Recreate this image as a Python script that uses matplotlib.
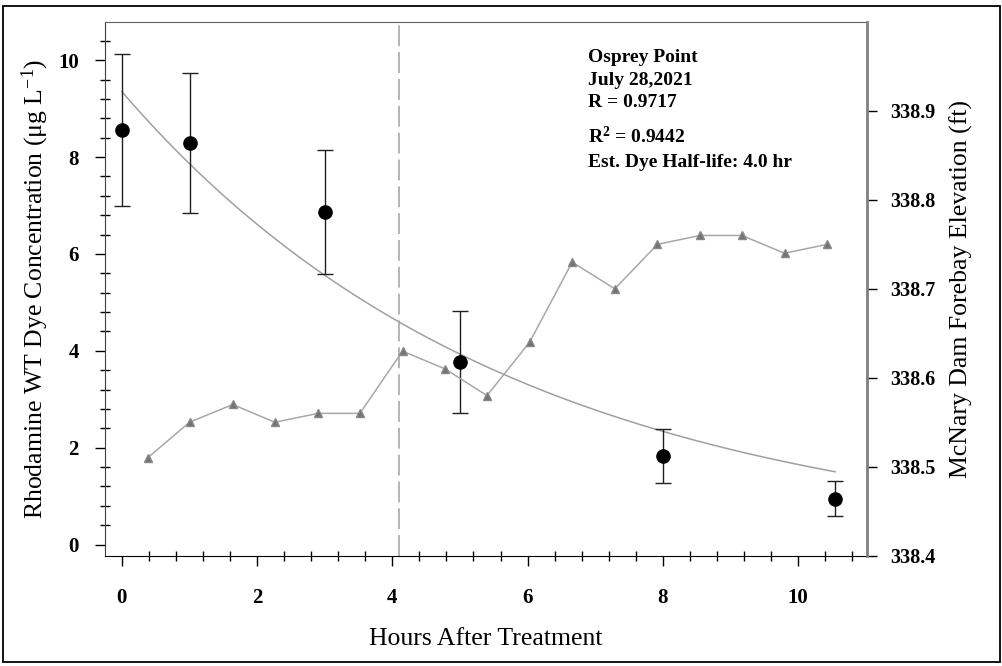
import numpy as np
import matplotlib
matplotlib.use('Agg')
import matplotlib.pyplot as plt
from matplotlib.patches import Rectangle
from matplotlib.ticker import MultipleLocator

plt.rcParams['font.family'] = ['Liberation Serif', 'DejaVu Serif']
plt.rcParams['mathtext.fontset'] = 'custom'
plt.rcParams['mathtext.rm'] = 'Liberation Serif'
plt.rcParams['mathtext.it'] = 'Liberation Serif:italic'
plt.rcParams['mathtext.bf'] = 'Liberation Serif:bold'

# dye samples (mean +/- sd)
dye_hours = [0, 1, 3, 5, 8, 10.55]
dye_conc = [8.56, 8.29, 6.87, 3.77, 1.83, 0.95]
dye_sd = [1.57, 1.44, 1.28, 1.05, 0.55, 0.365]

# forebay elevation record
elev_hours = [0.38, 1.0, 1.64, 2.26, 2.9, 3.52, 4.15, 4.78, 5.40, 6.03,
              6.66, 7.29, 7.92, 8.55, 9.17, 9.80, 10.43]
elev_ft = [338.51, 338.55, 338.57, 338.55, 338.56, 338.56, 338.63, 338.61,
           338.58, 338.64, 338.73, 338.70, 338.75, 338.76, 338.76, 338.74, 338.75]

# first-order decay fit
fit_c0 = 9.35
half_life = 4.0
treatment_end = 4.1

site = 'Osprey Point'
date = 'July 28,2021'
r_val = 0.9717
r2_val = 0.9442

fig = plt.figure(figsize=(10.03, 6.66), dpi=100)
ax = fig.add_axes([0.1047, 0.1656, 0.7597, 0.8014])

k = np.log(2) / half_life
xf = np.linspace(0, dye_hours[-1], 200)
ax.plot(xf, fit_c0 * np.exp(-k * xf), color='#a0a0a0', lw=1.1, zorder=2)

ax.errorbar(dye_hours, dye_conc, yerr=dye_sd, fmt='o', color='black',
            ms=9.5, ecolor='#202020', elinewidth=1.0, capsize=5.5,
            capthick=1.0, zorder=4)

ax.axvline(treatment_end, color='#a8a8a8', lw=1.2, dashes=(12.5, 3.6), zorder=1)

ax.set_xlim(-0.25, 11.02)
ax.set_ylim(-0.23, 10.79)
ax.xaxis.set_major_locator(MultipleLocator(2))
ax.xaxis.set_minor_locator(MultipleLocator(0.4))
ax.yaxis.set_major_locator(MultipleLocator(2))
ax.yaxis.set_minor_locator(MultipleLocator(0.4))
ax.tick_params(which='major', direction='out', length=7, width=1, colors='black')
ax.tick_params(which='minor', direction='inout', length=7, width=1, colors='black')
ax.tick_params(axis='x', which='major', pad=16, labelsize=15)
ax.tick_params(axis='y', which='major', pad=12, labelsize=15)
for lab in ax.get_xticklabels() + ax.get_yticklabels():
    lab.set_fontweight('bold')

ax.spines['left'].set_color('#404040')
ax.spines['top'].set_color('#606060')
ax.spines['bottom'].set_color('black')
ax.spines['right'].set_visible(False)

ax.set_xlabel('Hours After Treatment', fontsize=18.5)
ax.xaxis.set_label_coords(0.5, -0.135)
ax.set_ylabel('Rhodamine WT Dye Concentration (μg L$^{-1}$)', fontsize=18.5)
ax.yaxis.set_label_coords(-0.071, 0.5)

ax2 = ax.twinx()
ax2.plot(elev_hours, elev_ft, color='#a8a8a8', lw=1.1, marker='^', ms=6,
         mfc='#737373', mec='#888888', zorder=3)
ax2.set_ylim(338.4, 339.0)
ax2.set_yticks([338.4, 338.5, 338.6, 338.7, 338.8, 338.9])
ax2.set_yticklabels(['338.4', '338.5', '338.6', '338.7', '338.8', '338.9'],
                    fontweight='bold', fontsize=14.5)
ax2.tick_params(axis='y', direction='out', length=7, width=1, pad=10, colors='black')
ax2.spines['right'].set_color('#808080')
ax2.spines['right'].set_linewidth(2)
for s in ['left', 'top', 'bottom']:
    ax2.spines[s].set_visible(False)
ax2.set_ylabel('McNary Dam Forebay Elevation (ft)', fontsize=18.5)
ax2.yaxis.set_label_coords(1.108, 0.5)

tx = 0.634
fs = 14
ax.text(tx, 0.9256, site, transform=ax.transAxes, fontsize=fs, fontweight='bold', va='baseline')
ax.text(tx, 0.8819, date, transform=ax.transAxes, fontsize=fs, fontweight='bold', va='baseline')
ax.text(tx, 0.8413, f'R = {r_val:.4f}', transform=ax.transAxes, fontsize=fs, fontweight='bold', va='baseline')
ax.text(tx, 0.7731, r'R$^{\mathbf{2}}$' + f' = {r2_val:.4f}', transform=ax.transAxes,
        fontsize=fs, fontweight='bold', va='baseline')
ax.text(tx, 0.7289, f'Est. Dye Half-life: {half_life:.1f} hr', transform=ax.transAxes,
        fontsize=fs, fontweight='bold', va='baseline')

# outer frame
fig.patches.append(Rectangle((0.003, 0.006), 0.994, 0.985, transform=fig.transFigure,
                             fill=False, edgecolor='black', lw=1.3))

fig.savefig('out.png', dpi=100)
